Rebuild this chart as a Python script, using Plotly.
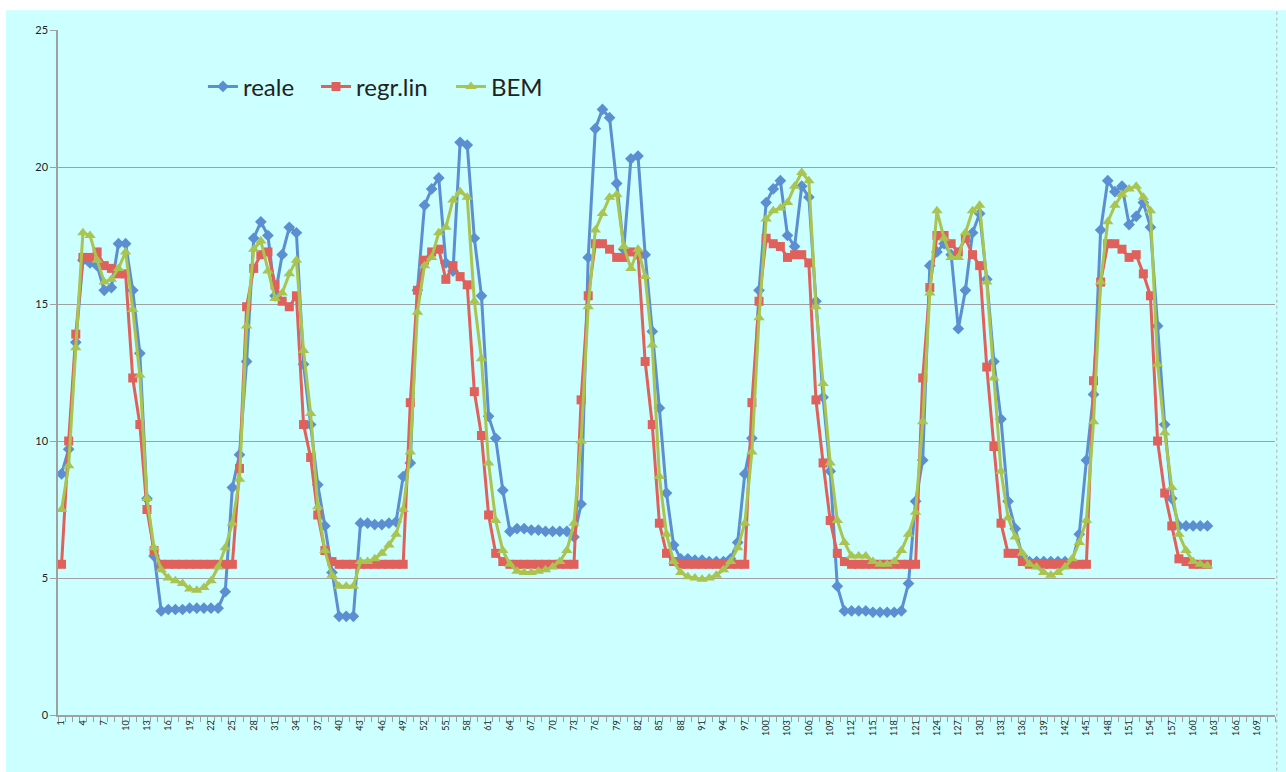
import plotly.graph_objects as go

# hours 1..162
reale = [8.8, 9.7, 13.6, 16.6, 16.5, 16.4, 15.5, 15.6, 17.2, 17.2, 15.5, 13.2, 7.9, 5.8,
         3.8, 3.85, 3.85, 3.85, 3.9, 3.9, 3.9, 3.9, 3.9, 4.5,
         8.3, 9.5, 12.9, 17.4, 18.0, 17.5, 15.3, 16.8, 17.8, 17.6, 12.8, 10.6, 8.4, 6.9, 5.2,
         3.6, 3.6, 3.6, 7.0, 7.0, 6.95, 6.95, 7.0, 7.05,
         8.7, 9.2, 15.5, 18.6, 19.2, 19.6, 16.5, 16.2, 20.9, 20.8, 17.4, 15.3, 10.9, 10.1, 8.2,
         6.7, 6.8, 6.8, 6.75, 6.75, 6.7, 6.7, 6.7, 6.7, 6.5,
         7.7, 16.7, 21.4, 22.1, 21.8, 19.4, 17.0, 20.3, 20.4, 16.8, 14.0, 11.2, 8.1, 6.2,
         5.7, 5.7, 5.65, 5.65, 5.6, 5.6, 5.6, 5.7, 6.3,
         8.8, 10.1, 15.5, 18.7, 19.2, 19.5, 17.5, 17.1, 19.3, 18.9, 15.1, 11.6, 8.9, 4.7,
         3.8, 3.8, 3.8, 3.8, 3.75, 3.75, 3.75, 3.75, 3.8, 4.8,
         7.8, 9.3, 16.4, 16.9, 17.2, 16.8, 14.1, 15.5, 17.6, 18.3, 15.9, 12.9, 10.8, 7.8, 6.8, 5.8,
         5.6, 5.6, 5.6, 5.6, 5.6, 5.6, 5.6, 6.6,
         9.3, 11.7, 17.7, 19.5, 19.1, 19.3, 17.9, 18.2, 18.7, 17.8, 14.2, 10.6, 7.9,
         6.9, 6.9, 6.9, 6.9, 6.9]

regr_lin = [5.5, 10.0, 13.9, 16.7, 16.7, 16.9, 16.4, 16.3, 16.1, 16.1, 12.3, 10.6, 7.5, 6.0,
            5.5, 5.5, 5.5, 5.5, 5.5, 5.5, 5.5, 5.5, 5.5, 5.5, 5.5,
            9.0, 14.9, 16.3, 16.8, 16.9, 15.7, 15.1, 14.9, 15.3, 10.6, 9.4, 7.3, 6.0, 5.6,
            5.5, 5.5, 5.5, 5.5, 5.5, 5.5, 5.5, 5.5, 5.5, 5.5,
            11.4, 15.5, 16.6, 16.9, 17.0, 15.9, 16.4, 16.0, 15.7, 11.8, 10.2, 7.3, 5.9, 5.6,
            5.5, 5.5, 5.5, 5.5, 5.5, 5.5, 5.5, 5.5, 5.5, 5.5,
            11.5, 15.3, 17.2, 17.2, 17.0, 16.7, 16.7, 16.9, 16.8, 12.9, 10.6, 7.0, 5.9, 5.6,
            5.5, 5.5, 5.5, 5.5, 5.5, 5.5, 5.5, 5.5, 5.5, 5.5,
            11.4, 15.1, 17.4, 17.2, 17.1, 16.7, 16.8, 16.8, 16.5, 11.5, 9.2, 7.1, 5.9, 5.6,
            5.5, 5.5, 5.5, 5.5, 5.5, 5.5, 5.5, 5.5, 5.5, 5.5,
            12.3, 15.6, 17.5, 17.5, 17.2, 16.9, 17.4, 16.8, 16.4, 12.7, 9.8, 7.0, 5.9, 5.9, 5.6,
            5.5, 5.5, 5.5, 5.5, 5.5, 5.5, 5.5, 5.5, 5.5,
            12.2, 15.8, 17.2, 17.2, 17.0, 16.7, 16.8, 16.1, 15.3, 10.0, 8.1, 6.9, 5.7, 5.6,
            5.5, 5.5, 5.5]

bem = [7.5, 9.1, 13.4, 17.6, 17.5, 16.6, 15.8, 15.9, 16.3, 16.9, 14.8, 12.4, 7.9, 6.1,
       5.3, 5.0, 4.9, 4.8, 4.6, 4.55, 4.65, 4.9, 5.4, 6.1,
       7.0, 8.6, 14.2, 17.0, 17.3, 16.2, 15.2, 15.4, 16.1, 16.6, 13.3, 11.0, 7.6, 6.0, 5.1,
       4.7, 4.7, 4.7, 5.6, 5.6, 5.7, 5.9, 6.2, 6.6,
       7.5, 9.6, 14.7, 16.4, 16.7, 17.6, 17.8, 18.8, 19.1, 18.9, 15.1, 13.0, 9.2, 7.1, 6.0,
       5.5, 5.25, 5.2, 5.2, 5.25, 5.3, 5.4, 5.6, 6.0,
       7.0, 10.0, 14.9, 17.7, 18.3, 18.9, 19.0, 17.1, 16.3, 17.0, 16.0, 13.5, 8.7, 6.6,
       5.6, 5.2, 5.05, 5.0, 4.95, 5.0, 5.1, 5.3, 5.6, 6.1,
       7.0, 9.6, 14.5, 18.1, 18.4, 18.5, 18.7, 19.3, 19.8, 19.5, 14.9, 12.1, 9.2, 7.1,
       6.3, 5.8, 5.8, 5.8, 5.6, 5.5, 5.5, 5.6, 6.0, 6.6,
       7.4, 10.7, 15.4, 18.4, 17.4, 16.7, 16.7, 17.6, 18.4, 18.6, 15.8, 12.3, 8.9, 7.2, 6.5, 5.9,
       5.5, 5.4, 5.2, 5.1, 5.2, 5.4, 5.7, 6.3,
       7.1, 10.7, 15.8, 18.0, 18.6, 19.0, 19.2, 19.3, 18.9, 18.4, 12.8, 10.3, 8.3, 6.6,
       6.0, 5.6, 5.5, 5.45]

hours = list(range(1, len(reale) + 1))
n_categories = 171
tick_vals = list(range(1, n_categories + 1, 3))
tick_text = [str(v) for v in tick_vals]
y_ticks = [0, 5, 10, 15, 20, 25]

BLUE = "#5B8FD2"
RED = "#E0605C"
GREEN = "#A9C450"
BG = "#CCFFFF"
FONT = "Lato, 'Open Sans', sans-serif"
LEG_FONT = dict(size=24, family=FONT, color="#222222")

fig = go.Figure()
fig.add_trace(go.Scatter(x=hours, y=reale, name="reale", mode="lines+markers",
                         legend="legend",
                         line=dict(color=BLUE, width=3),
                         marker=dict(symbol="diamond", size=9, color=BLUE)))
fig.add_trace(go.Scatter(x=hours, y=regr_lin, name="regr.lin", mode="lines+markers",
                         legend="legend2",
                         line=dict(color=RED, width=3),
                         marker=dict(symbol="square", size=9, color=RED)))
fig.add_trace(go.Scatter(x=hours, y=bem, name="BEM", mode="lines+markers",
                         legend="legend3",
                         line=dict(color=GREEN, width=3),
                         marker=dict(symbol="triangle-up", size=10, color=GREEN)))


def leg(xpos):
    return dict(orientation="h", x=xpos, y=0.917, xanchor="left", yanchor="middle",
                bgcolor="rgba(0,0,0,0)", font=LEG_FONT, itemwidth=30)


fig.update_layout(
    width=1286, height=772,
    margin=dict(l=58, r=11, t=30, b=57),
    paper_bgcolor="white",
    plot_bgcolor=BG,
    font=dict(family=FONT, color="#222222"),
    showlegend=True,
    legend=leg(0.1191),
    legend2=leg(0.2120),
    legend3=leg(0.3229),
    shapes=[
        dict(type="rect", xref="paper", yref="paper", layer="below",
             x0=-0.0428, x1=1.01, y0=-0.09, y1=1.029,
             fillcolor=BG, line=dict(width=0)),
        dict(type="line", xref="paper", yref="paper",
             x0=1.0015, x1=1.0015, y0=-0.09, y1=1.029,
             line=dict(color="#B0B0B0", width=1, dash="dot")),
    ],
)

fig.update_xaxes(
    range=[0.5, n_categories + 0.5],
    tickmode="array", tickvals=tick_vals, ticktext=tick_text,
    tickangle=-90, tickfont=dict(size=9, family=FONT, color="#222222"),
    ticks="", showgrid=False, zeroline=False,
    showline=True, linecolor="#A0A0A0", linewidth=1.5,
    minor=dict(ticks="outside", tickmode="linear", tick0=0.5, dtick=1,
               ticklen=5, tickcolor="#A0A0A0", tickwidth=1, showgrid=False),
)
fig.update_yaxes(
    range=[0, 25], tickmode="array", tickvals=y_ticks,
    tickfont=dict(size=11, family=FONT, color="#222222"),
    ticks="outside", ticklen=6, tickcolor="#A0A0A0",
    showgrid=True, gridcolor="#A0A0A0", gridwidth=1,
    zeroline=False, showline=True, linecolor="#A0A0A0", linewidth=1.5,
)

fig.write_html("out.html")
